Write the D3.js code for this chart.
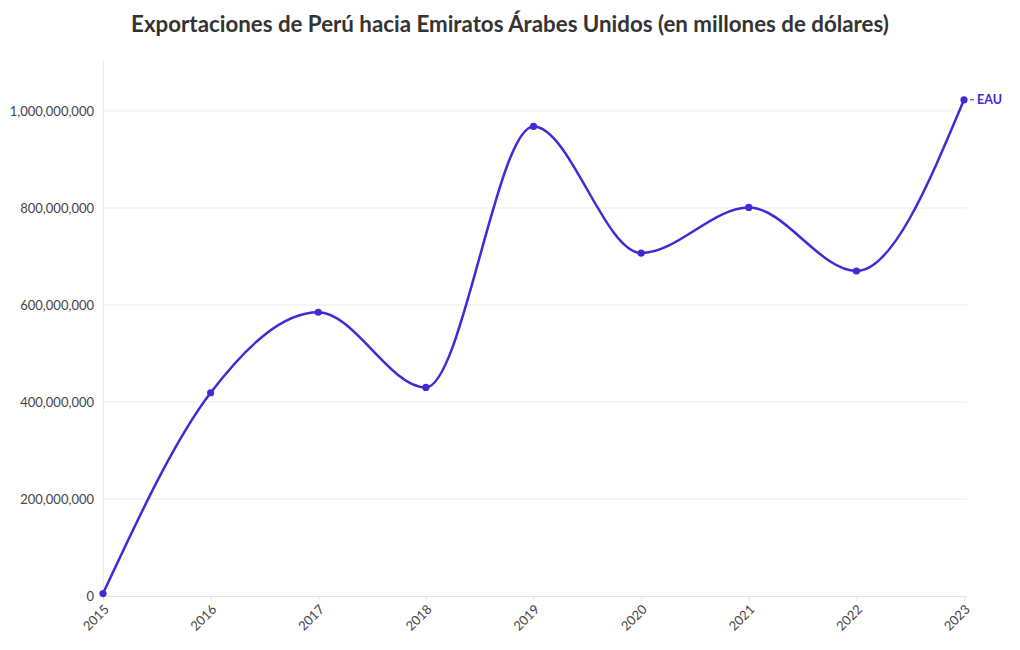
<!DOCTYPE html>
<html><head><meta charset="utf-8">
<script src="https://cdn.jsdelivr.net/npm/d3@7"></script>
<style>body{margin:0;background:#fff;font-family:"Source Sans Pro","Lato","Noto Sans",sans-serif;}</style>
</head><body><svg id="c" width="1020" height="650"></svg>
<script>
const years = ["2015","2016","2017","2018","2019","2020","2021","2022","2023"];
const values = [5000000, 419000000, 585000000, 430000000, 968000000, 707000000, 801000000, 670000000, 1023000000];
const yTicks = [0, 200000000, 400000000, 600000000, 800000000, 1000000000];
const seriesName = "EAU";
const title = "Exportaciones de Perú hacia Emiratos Árabes Unidos (en millones de dólares)";
const color = "#4527d6";
const FONT = "'Source Sans Pro', Lato, 'Noto Sans', sans-serif";

const svg = d3.select("#c");
const m = {l:103, r:56, t:60, b:54};
const W = 1020, H = 650;
const x = d3.scalePoint().domain(years).range([m.l, W - m.r]);
const y = d3.scaleLinear().domain([0, 1105000000]).range([H - m.b, m.t]);

svg.append("text").attr("x", 510).attr("y", 32).attr("text-anchor","middle")
  .attr("font-family", FONT).attr("font-size", 22.3).attr("font-weight", 700).attr("fill", "#333").text(title);

// gridlines
svg.append("g").selectAll("line").data(yTicks.slice(1)).join("line")
  .attr("x1", m.l).attr("x2", W - m.r + 3).attr("y1", d=>y(d)).attr("y2", d=>y(d))
  .attr("stroke", "#ebebeb").attr("stroke-width", 1);

// y axis
const ya = svg.append("g").attr("transform", `translate(${m.l},0)`)
  .call(d3.axisLeft(y).tickValues(yTicks).tickFormat(d3.format(",")).tickSize(0).tickPadding(9))
  .attr("font-family", FONT);
ya.select(".domain").attr("stroke", "#ebebeb");
ya.selectAll("text").attr("font-size", 13).attr("fill", "#444");

// x axis
const xa = svg.append("g").attr("transform", `translate(0,${H - m.b})`)
  .call(d3.axisBottom(x).tickSize(5).tickPadding(4))
  .attr("font-family", FONT);
xa.select(".domain").attr("stroke", "#e3e3e3").attr("d", `M${m.l},0.5H${W - m.r + 3}`);
xa.selectAll(".tick line").attr("stroke", "#e3e3e3");
xa.selectAll("text").attr("font-size", 13).attr("fill", "#444")
  .attr("text-anchor", "end").attr("y", 0).attr("dy", "0.35em")
  .attr("transform", "translate(3,11) rotate(-45)");

const data = years.map((yr,i)=>({yr, v: values[i]}));
const line = d3.line().x(d=>x(d.yr)).y(d=>y(d.v)).curve(d3.curveMonotoneX);
svg.append("path").datum(data).attr("d", line).attr("fill","none").attr("stroke", color).attr("stroke-width", 2.5);
svg.append("g").selectAll("circle").data(data).join("circle")
  .attr("cx", d=>x(d.yr)).attr("cy", d=>y(d.v)).attr("r", 3.6).attr("fill", color);

const last = data[data.length-1];
svg.append("line").attr("x1", x(last.yr)+6).attr("x2", x(last.yr)+10).attr("y1", y(last.v)).attr("y2", y(last.v))
  .attr("stroke", color).attr("stroke-width", 1);
svg.append("text").attr("x", x(last.yr)+13).attr("y", y(last.v)).attr("dy","0.35em")
  .attr("font-family", FONT).attr("font-size", 12.5).attr("font-weight", 700).attr("fill", color).text(seriesName);
</script></body></html>
